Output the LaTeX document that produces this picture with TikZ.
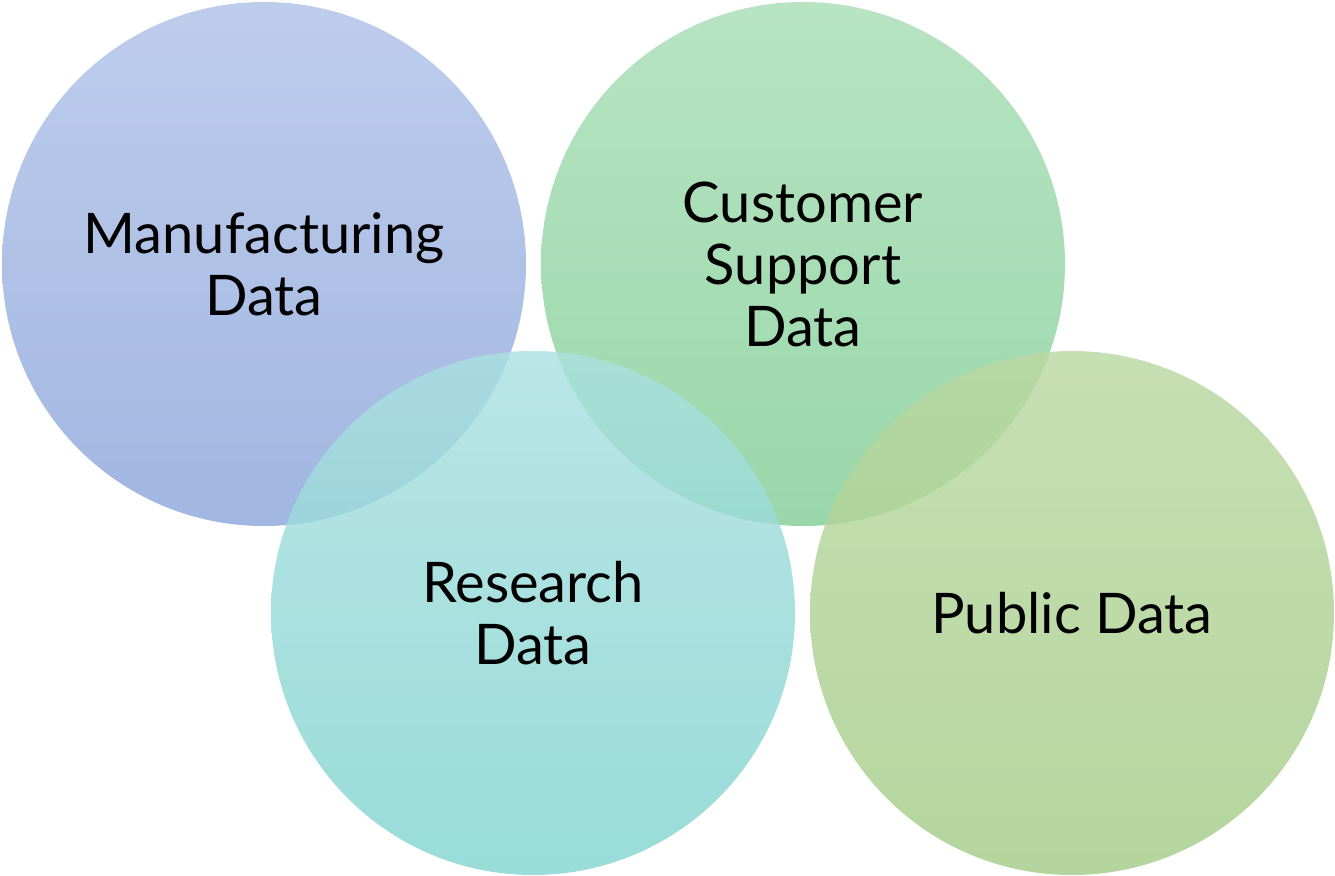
\documentclass[tikz,border=0pt]{standalone}
\usepackage{fontspec}
\setmainfont{Lato}
\begin{document}
\begin{tikzpicture}[x=0.5pt,y=-0.5pt,
  circ/.style={circle,minimum size=262pt,inner sep=0pt,fill opacity=0.82,text opacity=1,align=center,font=\fontsize{28}{31}\selectfont}]
\useasboundingbox (0,0) rectangle (1335,876);
\node[circ,top color={rgb,255:red,176;green,194;blue,232},bottom color={rgb,255:red,140;green,166;blue,218}] (m) at (264,264) {Manufacturing\\Data};
\node[circ,top color={rgb,255:red,168;green,222;blue,182},bottom color={rgb,255:red,130;green,206;blue,150}] (c) at (803,264) {Customer\\Support\\Data};
\node[circ,top color={rgb,255:red,170;green,224;blue,224},bottom color={rgb,255:red,130;green,212;blue,208}] (r) at (533,613) {Research\\Data};
\node[circ,top color={rgb,255:red,186;green,216;blue,162},bottom color={rgb,255:red,164;green,204;blue,136}] (p) at (1072,613) {Public Data};
\end{tikzpicture}
\end{document}
